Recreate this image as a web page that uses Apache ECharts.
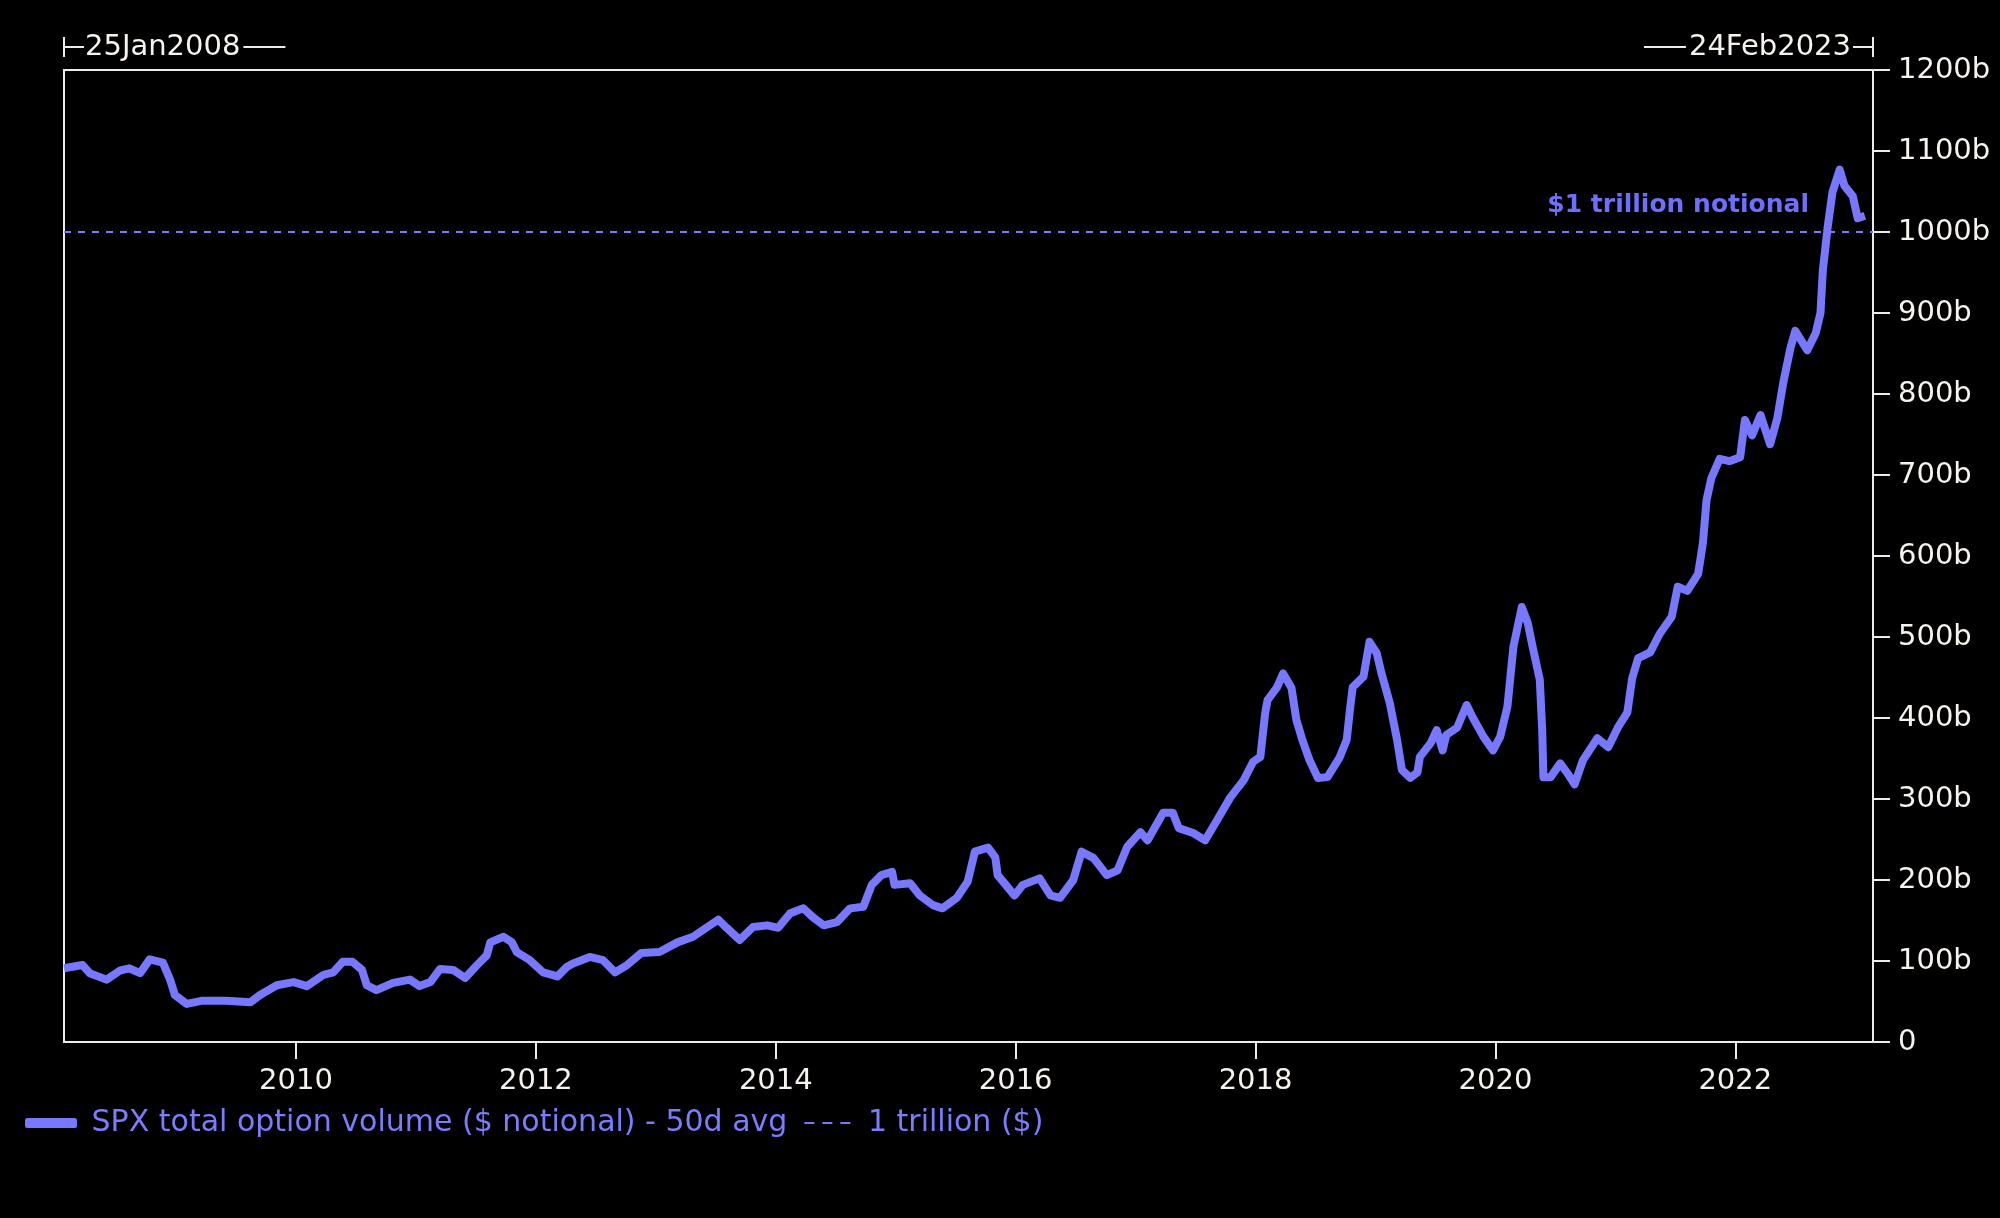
<!DOCTYPE html>
<html>
<head>
<meta charset="utf-8">
<script src="https://cdn.jsdelivr.net/npm/echarts@6/dist/echarts.min.js"></script>
<style>
  html, body { margin: 0; padding: 0; background: #000; }
  #chart { width: 2000px; height: 1218px; }
</style>
</head>
<body>
<div id="chart"></div>
<script>
// ---- data ----
const startLabel = '25Jan2008';
const endLabel = '24Feb2023';
const xMin = 2008 + 24 / 366;   // 25 Jan 2008 as decimal year
const xMax = 2023 + 54 / 365;   // 24 Feb 2023 as decimal year
const xTickYears = [2010, 2012, 2014, 2016, 2018, 2020, 2022];
const seriesName = 'SPX total option volume ($ notional) - 50d avg';
const refName = '1 trillion ($)';
const refValue = 1000;
const refLabel = '$1 trillion notional';

const years = [
  2008.066, 2008.22, 2008.28, 2008.42, 2008.53, 2008.61, 2008.70, 2008.78, 2008.89, 2008.95,
  2008.99, 2009.09, 2009.22, 2009.42, 2009.62, 2009.70, 2009.84, 2009.98, 2010.09, 2010.23,
  2010.31, 2010.39, 2010.47, 2010.55, 2010.59, 2010.67, 2010.81, 2010.95, 2011.03, 2011.12,
  2011.20, 2011.31, 2011.41, 2011.51, 2011.59, 2011.62, 2011.73, 2011.80, 2011.84, 2011.95,
  2012.06, 2012.18, 2012.26, 2012.31, 2012.45, 2012.56, 2012.66, 2012.76, 2012.88, 2013.03,
  2013.18, 2013.31, 2013.43, 2013.52, 2013.59, 2013.70, 2013.81, 2013.93, 2014.02, 2014.12,
  2014.23, 2014.31, 2014.40, 2014.51, 2014.62, 2014.73, 2014.80, 2014.88, 2014.97, 2014.99,
  2015.12, 2015.20, 2015.31, 2015.39, 2015.51, 2015.60, 2015.66, 2015.77, 2015.83, 2015.85,
  2015.99, 2016.06, 2016.20, 2016.29, 2016.37, 2016.48, 2016.55, 2016.65, 2016.76, 2016.85,
  2016.93, 2017.04, 2017.10, 2017.23, 2017.31, 2017.36, 2017.48, 2017.58, 2017.68, 2017.79,
  2017.90, 2017.98, 2018.04, 2018.08, 2018.10, 2018.18, 2018.23, 2018.30, 2018.34, 2018.39,
  2018.45, 2018.52, 2018.60, 2018.70, 2018.76, 2018.79, 2018.81, 2018.90, 2018.95, 2019.01,
  2019.05, 2019.12, 2019.18, 2019.22, 2019.29, 2019.35, 2019.37, 2019.46, 2019.51, 2019.56,
  2019.59, 2019.68, 2019.76, 2019.81, 2019.90, 2019.98, 2020.04, 2020.10, 2020.15, 2020.22,
  2020.27, 2020.31, 2020.37, 2020.39, 2020.40, 2020.46, 2020.54, 2020.60, 2020.66, 2020.73,
  2020.85, 2020.94, 2021.02, 2021.10, 2021.14, 2021.19, 2021.29, 2021.37, 2021.47, 2021.52,
  2021.60, 2021.69, 2021.73, 2021.76, 2021.80, 2021.87, 2021.95, 2022.04, 2022.08, 2022.14,
  2022.21, 2022.29, 2022.35, 2022.40, 2022.46, 2022.50, 2022.60, 2022.67, 2022.71, 2022.73,
  2022.77, 2022.81, 2022.87, 2022.91, 2022.98, 2023.02, 2023.08
];
const volumeB = [
  91, 95, 85, 77, 88, 91, 85, 102, 98, 77,
  58, 47, 51, 51, 49, 58, 70, 74, 69, 83,
  86, 99, 99, 89, 70, 64, 73, 77, 69, 74,
  90, 89, 79, 95, 107, 123, 130, 123, 111, 101,
  86, 81, 93, 97, 105, 101, 86, 95, 110, 111,
  123, 130, 142, 151, 141, 126, 142, 144, 141, 159,
  165, 154, 144, 148, 165, 167, 194, 206, 210, 194,
  196, 181, 169, 165, 178, 198, 235, 240, 228, 206,
  181, 194, 202, 181, 178, 200, 235, 227, 206, 212,
  241, 259, 249, 283, 283, 264, 258, 249, 274, 302,
  323, 346, 352, 406, 422, 438, 455, 437, 398, 373,
  348, 326, 327, 351, 373, 414, 438, 451, 494, 480,
  455, 418, 373, 336, 326, 333, 352, 369, 385, 360,
  379, 388, 416, 401, 377, 360, 377, 414, 488, 537,
  517, 488, 447, 385, 327, 327, 344, 332, 318, 348,
  375, 364, 388, 407, 449, 474, 481, 504, 525, 562,
  557, 578, 616, 669, 696, 720, 717, 722, 768, 749,
  774, 738, 770, 814, 857, 878, 854, 875, 900, 953,
  1006, 1049, 1077, 1057, 1044, 1017, 1020
];

// ---- chart ----
const FONT = 'DejaVu Sans';
const LINE = '#7878ff';
const AXIS = '#ececec';
const chart = echarts.init(document.getElementById('chart'), null, { renderer: 'canvas' });

const lineData = years.map((y, i) => [y, volumeB[i]]);
const dashIcon = 'path://M0,4h10v2h-10zM18,4h10v2h-10zM36,4h10v2h-10zM0,0h0.05v0.05zM45.95,9.95h0.05v0.05z';

chart.setOption({
  backgroundColor: '#000000',
  animation: false,
  grid: {
    left: 64, right: 127, top: 70, bottom: 176,
    show: true, borderColor: AXIS, borderWidth: 2, backgroundColor: 'transparent'
  },
  legend: {
    left: 25, top: 1108, padding: 0, itemGap: 17,
    itemWidth: 52, itemHeight: 10,
    textStyle: { color: '#7c7cff', fontFamily: FONT, fontSize: 30 },
    formatter: n => ' ' + n,
    data: [
      { name: seriesName, icon: 'roundRect', itemStyle: { color: LINE } },
      { name: refName, icon: dashIcon, itemStyle: { color: LINE } }
    ]
  },
  xAxis: {
    type: 'value', min: xMin, max: xMax,
    axisLine: { show: true, lineStyle: { color: AXIS, width: 2 } },
    axisTick: { show: true, length: 17, lineStyle: { color: AXIS, width: 2 }, customValues: xTickYears },
    axisLabel: {
      color: '#f6f3ee', fontFamily: FONT, fontSize: 29, margin: 25,
      customValues: xTickYears, formatter: v => String(Math.round(v))
    },
    splitLine: { show: false }
  },
  yAxis: {
    type: 'value', position: 'right', min: 0, max: 1200, interval: 100,
    axisLine: { show: true, lineStyle: { color: AXIS, width: 2 } },
    axisTick: { show: true, length: 17, lineStyle: { color: AXIS, width: 2 } },
    axisLabel: {
      color: '#f6f3ee', fontFamily: FONT, fontSize: 29, margin: 25,
      formatter: v => (v === 0 ? '0' : v + 'b')
    },
    splitLine: { show: false }
  },
  series: [
    {
      name: seriesName, type: 'line', data: lineData,
      showSymbol: false, symbol: 'none',
      lineStyle: { color: LINE, width: 8, join: 'round' },
      itemStyle: { color: LINE },
      z: 3
    },
    {
      name: refName, type: 'line', data: [],
      symbol: 'none',
      lineStyle: { color: LINE, width: 2, type: [7, 7] },
      itemStyle: { color: LINE },
      markLine: {
        silent: true, symbol: 'none',
        lineStyle: { color: '#7b7bff', width: 2, type: [7, 7] },
        label: {
          show: true, position: 'insideEndTop', formatter: refLabel,
          color: '#6f6fff', fontFamily: FONT, fontWeight: 'bold', fontSize: 25,
          distance: 14, padding: [0, 50, 0, 0]
        },
        data: [{ yAxis: refValue }]
      },
      z: 2
    }
  ]
});

// ---- top range markers, positioned from the x axis scale ----
function textWidth(str, size) {
  const c = document.createElement('canvas').getContext('2d');
  c.font = size + 'px "' + FONT + '"';
  return c.measureText(str).width;
}
const x0 = chart.convertToPixel({ xAxisIndex: 0 }, xMin);
const x1 = chart.convertToPixel({ xAxisIndex: 0 }, xMax);
const yMid = 47, tsz = 29;
const wL = textWidth(startLabel, tsz), wR = textWidth(endLabel, tsz);
const stroke = { stroke: AXIS, lineWidth: 2 };
chart.setOption({
  graphic: [
    { type: 'line', shape: { x1: x0, y1: 37, x2: x0, y2: 57 }, style: stroke, silent: true },
    { type: 'line', shape: { x1: x0, y1: yMid, x2: x0 + 20, y2: yMid }, style: stroke, silent: true },
    { type: 'text', x: x0 + 21, y: yMid, style: { text: startLabel, fill: '#f6f3ee', font: tsz + 'px "' + FONT + '"', verticalAlign: 'middle', align: 'left' }, silent: true },
    { type: 'line', shape: { x1: x0 + 24 + wL, y1: yMid, x2: x0 + 66 + wL, y2: yMid }, style: stroke, silent: true },
    { type: 'line', shape: { x1: x1, y1: 37, x2: x1, y2: 57 }, style: stroke, silent: true },
    { type: 'line', shape: { x1: x1 - 20, y1: yMid, x2: x1, y2: yMid }, style: stroke, silent: true },
    { type: 'text', x: x1 - 22, y: yMid, style: { text: endLabel, fill: '#f6f3ee', font: tsz + 'px "' + FONT + '"', verticalAlign: 'middle', align: 'right' }, silent: true },
    { type: 'line', shape: { x1: x1 - 67 - wR, y1: yMid, x2: x1 - 25 - wR, y2: yMid }, style: stroke, silent: true }
  ]
});
</script>
</body>
</html>
